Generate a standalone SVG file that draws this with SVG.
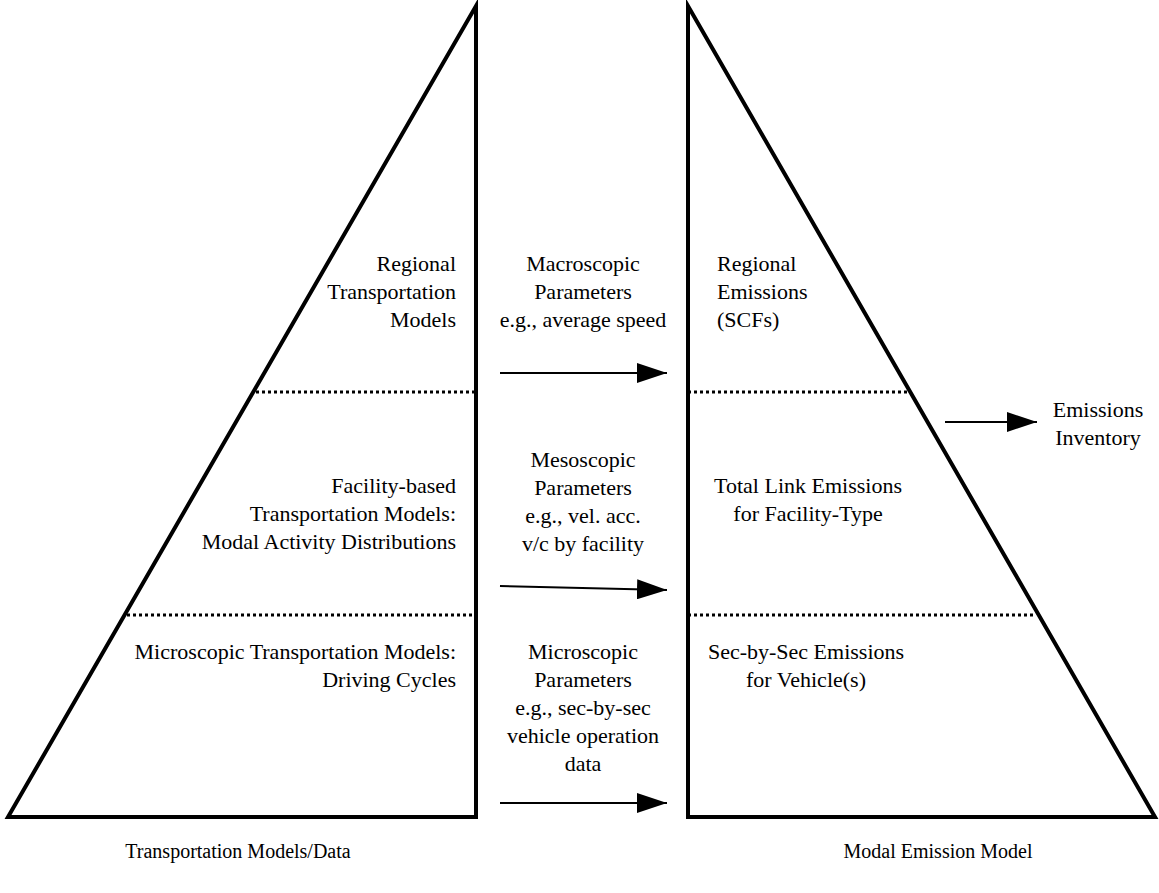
<svg xmlns="http://www.w3.org/2000/svg" width="1159" height="893" viewBox="0 0 1159 893">
<defs>
<marker id="ah" markerWidth="30" markerHeight="20" refX="30" refY="10" orient="auto" markerUnits="userSpaceOnUse">
<path d="M0,0 L30,10 L0,20 Z" fill="#000"/>
</marker>
<style>
.tri{fill:none;stroke:#000;stroke-width:4;stroke-linejoin:miter}
.dot{stroke:#000;stroke-width:3;stroke-dasharray:3,3}
.arr{stroke:#000;stroke-width:2;fill:none}
text{font-family:"Liberation Serif","Times New Roman",serif;font-size:22px;fill:#000}
.r{text-anchor:end}
.m{text-anchor:middle}
.l{text-anchor:start}
.cap{font-size:20px}
</style>
</defs>
<rect width="1159" height="893" fill="#fff"/>
<g id="left-pyramid">
<path class="tri" d="M476,6 L8,817 L476,817 Z"/>
<line class="dot" x1="256" y1="392" x2="476" y2="392"/>
<line class="dot" x1="127" y1="615" x2="476" y2="615"/>
</g>
<g id="right-pyramid">
<path class="tri" d="M688,6 L688,817 L1155,817 Z"/>
<line class="dot" x1="688" y1="392" x2="908" y2="392"/>
<line class="dot" x1="688" y1="615" x2="1036" y2="615"/>
</g>
<g id="left-labels">
<text class="r" x="456" y="271">Regional</text>
<text class="r" x="456" y="299">Transportation</text>
<text class="r" x="456" y="327">Models</text>
<text class="r" x="456" y="493">Facility-based</text>
<text class="r" x="456" y="521">Transportation Models:</text>
<text class="r" x="456" y="549">Modal Activity Distributions</text>
<text class="r" x="456" y="659">Microscopic Transportation Models:</text>
<text class="r" x="456" y="687">Driving Cycles</text>
</g>
<g id="middle-labels">
<text class="m" x="583" y="271">Macroscopic</text>
<text class="m" x="583" y="299">Parameters</text>
<text class="m" x="583" y="327">e.g., average speed</text>
<text class="m" x="583" y="467">Mesoscopic</text>
<text class="m" x="583" y="495">Parameters</text>
<text class="m" x="583" y="523">e.g., vel. acc.</text>
<text class="m" x="583" y="551">v/c by facility</text>
<text class="m" x="583" y="659">Microscopic</text>
<text class="m" x="583" y="687">Parameters</text>
<text class="m" x="583" y="715">e.g., sec-by-sec</text>
<text class="m" x="583" y="743">vehicle operation</text>
<text class="m" x="583" y="771">data</text>
</g>
<g id="right-labels">
<text class="l" x="717" y="271">Regional</text>
<text class="l" x="717" y="299">Emissions</text>
<text class="l" x="717" y="327">(SCFs)</text>
<text class="m" x="808" y="493">Total Link Emissions</text>
<text class="m" x="808" y="521">for Facility-Type</text>
<text class="m" x="806" y="659">Sec-by-Sec Emissions</text>
<text class="m" x="806" y="687">for Vehicle(s)</text>
</g>
<g id="emissions-inventory">
<text class="m" x="1098" y="417">Emissions</text>
<text class="m" x="1098" y="445">Inventory</text>
</g>
<g id="captions">
<text class="m cap" x="238" y="858">Transportation Models/Data</text>
<text class="m cap" x="938" y="858">Modal Emission Model</text>
</g>
<g id="connectors">
<line class="arr" x1="500" y1="373" x2="667" y2="373" marker-end="url(#ah)"/>
<line class="arr" x1="500" y1="586" x2="667" y2="590" marker-end="url(#ah)"/>
<line class="arr" x1="500" y1="803" x2="667" y2="803" marker-end="url(#ah)"/>
<line class="arr" x1="945" y1="422" x2="1037" y2="422" marker-end="url(#ah)"/>
</g>
</svg>
